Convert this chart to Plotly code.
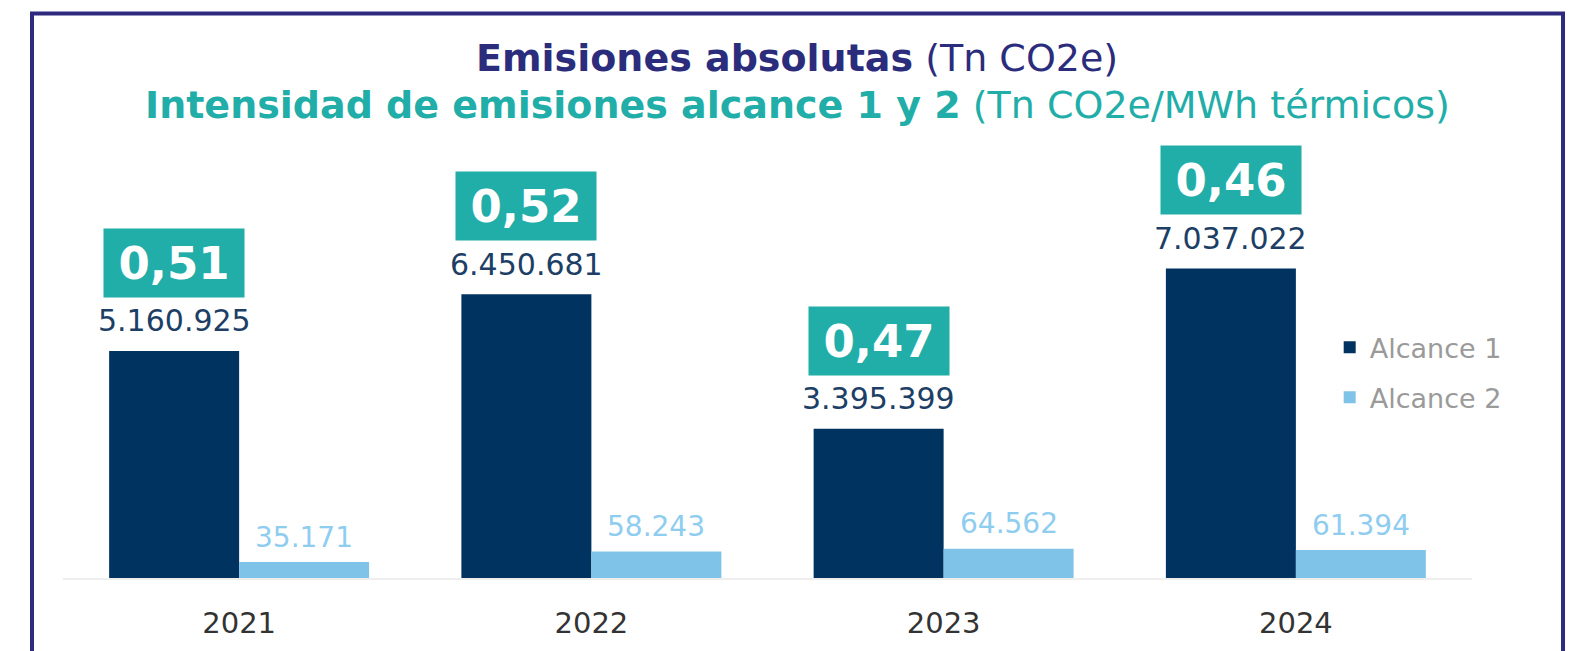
import plotly.graph_objects as go

years = ["2021", "2022", "2023", "2024"]
alcance1 = [5160925, 6450681, 3395399, 7037022]
alcance2 = [35171, 58243, 64562, 61394]
intensidad = [0.51, 0.52, 0.47, 0.46]

def fmt_int(v):
    return f"{v:,}".replace(",", ".")

def fmt_dec(v):
    return f"{v:.2f}".replace(".", ",")

C_A1 = "#00335f"
C_A2 = "#80c3e8"
C_A1_TXT = "#1d3f66"
C_A2_TXT = "#8fcdf0"
C_TEAL = "#21ada8"
C_NAVY = "#2b2d7c"
FONT = "DejaVu Sans"

W = 0.369  # bar width in category units

fig = go.Figure()
fig.add_trace(go.Bar(
    x=years, y=alcance1, name="Alcance 1", marker_color=C_A1,
    width=W, offset=-W, yaxis="y", legendgroup="a1",
    marker_line_width=0, hoverinfo="skip",
))
fig.add_trace(go.Bar(
    x=years, y=alcance2, name="Alcance 2", marker_color=C_A2,
    width=W, offset=0, yaxis="y2", legendgroup="a2",
    marker_line_width=0, hoverinfo="skip",
))

annotations = []
for i, (y, a1, a2, it) in enumerate(zip(years, alcance1, alcance2, intensidad)):
    annotations.append(dict(
        x=i - W / 2, y=a1, xref="x", yref="y", text=fmt_int(a1),
        showarrow=False, yanchor="middle", yshift=30,
        font=dict(family=FONT, size=30, color=C_A1_TXT),
    ))
    annotations.append(dict(
        x=i + W / 2, y=a2, xref="x", yref="y2", text=fmt_int(a2),
        showarrow=False, yanchor="middle", yshift=25,
        font=dict(family=FONT, size=28, color=C_A2_TXT),
    ))
    annotations.append(dict(
        x=i - W / 2, y=a1, xref="x", yref="y", text=f"<b>{fmt_dec(it)}</b>",
        showarrow=False, yanchor="middle", yshift=88,
        width=136, height=64, borderpad=2, bgcolor=C_TEAL,
        font=dict(family=FONT, size=45, color="white"),
    ))

annotations.append(dict(
    x=0.521, y=1.1607, xref="paper", yref="paper",
    text="<b>Emisiones absolutas</b> (Tn CO2e)",
    showarrow=False, xanchor="center", yanchor="middle",
    font=dict(family=FONT, size=38, color=C_NAVY),
))
annotations.append(dict(
    x=0.521, y=1.0547, xref="paper", yref="paper",
    text="<b>Intensidad de emisiones alcance 1 y 2</b> (Tn CO2e/MWh térmicos)",
    showarrow=False, xanchor="center", yanchor="middle",
    font=dict(family=FONT, size=38, color=C_TEAL),
))

fig.update_layout(
    width=1587, height=651,
    margin=dict(l=63, r=115, t=130, b=73),
    paper_bgcolor="white", plot_bgcolor="white",
    showlegend=True,
    legend=dict(
        x=0.899, y=0.569, xanchor="left", yanchor="top",
        font=dict(family=FONT, size=27, color="#9a9a9a"),
        traceorder="grouped", tracegroupgap=12,
        bgcolor="rgba(0,0,0,0)",
    ),
    xaxis=dict(
        type="category", showgrid=False, zeroline=False,
        showline=True, linecolor="#eeeeee", linewidth=2,
        ticks="outside", ticklen=18, tickcolor="rgba(0,0,0,0)",
        tickfont=dict(family=FONT, size=29, color="#333333"),
        range=[-0.5, 3.5],
    ),
    yaxis=dict(visible=False, range=[0, 10185000], fixedrange=True),
    yaxis2=dict(visible=False, range=[0, 984700], overlaying="y", fixedrange=True),
    annotations=annotations,
    shapes=[dict(
        type="rect", xref="paper", yref="paper",
        x0=-0.0220, x1=1.0646, y0=-0.3, y1=1.260,
        line=dict(color="#2e2b7e", width=4), fillcolor="rgba(0,0,0,0)",
        layer="below",
    )],
)

fig.write_html(
    "out.html",
    config={"displayModeBar": False},
    post_script="document.body.style.margin='0';document.body.style.overflow='hidden';",
)
